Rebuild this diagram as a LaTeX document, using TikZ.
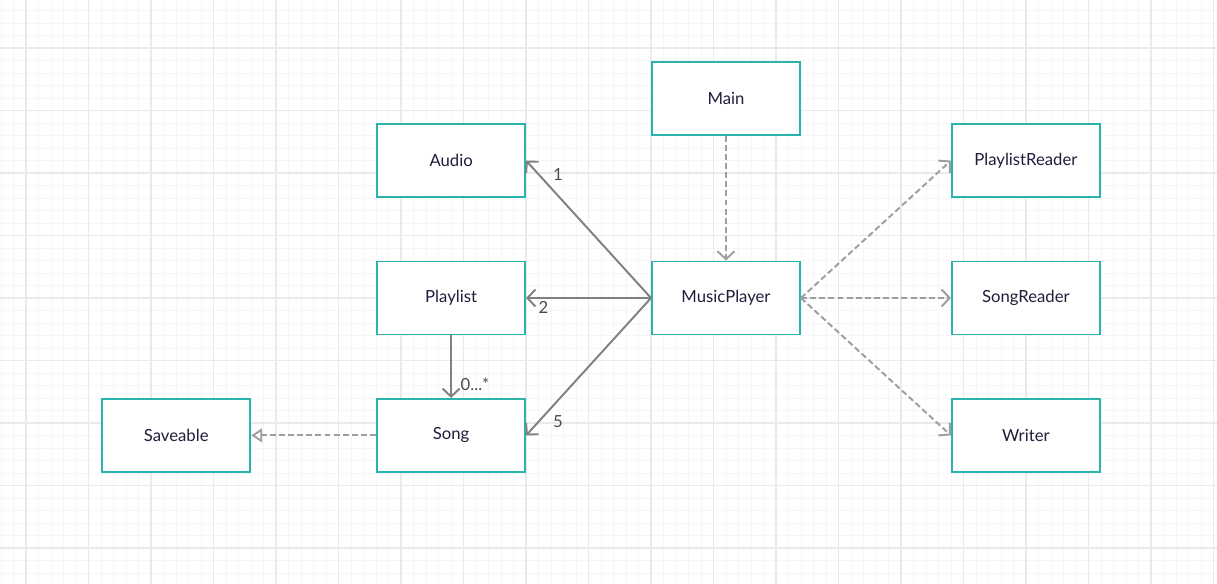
\documentclass[tikz,border=0pt]{standalone}
\usepackage{fontspec}
\setmainfont{Lato}
\usepackage{xcolor}
\usetikzlibrary{positioning,arrows.meta}
\definecolor{boxteal}{HTML}{2BB3AE}
\definecolor{textnavy}{HTML}{1E1E3C}
\definecolor{multgray}{HTML}{4A4A55}
\definecolor{linegray}{HTML}{808080}
\definecolor{dashgray}{HTML}{9E9E9E}
\definecolor{gridminor}{HTML}{F6F6F6}
\definecolor{gridmajor}{HTML}{EAEAEA}

\begin{document}
\begin{tikzpicture}[
  x=0.02cm, y=-0.02cm,
  node distance=1.25cm and 2.5cm,
  cls/.style={draw=boxteal, line width=1.1pt, fill=white, text=textnavy, minimum width=2.96cm, minimum height=1.46cm, font=\fontsize{9.5}{11}\selectfont},
  assoc/.style={draw=linegray, line width=1.1pt, -{Straight Barb[length=1.6mm, width=3.4mm]}},
  dep/.style={draw=dashgray, line width=1.1pt, dash pattern=on 3.4pt off 1.8pt, -{Straight Barb[length=1.6mm, width=3.4mm]}},
  real/.style={draw=dashgray, line width=1.1pt, dash pattern=on 3.4pt off 1.8pt, -{Triangle[fill=white, length=2.2mm, width=2.8mm]}},
  mult/.style={text=multgray, font=\fontsize{9.5}{11}\selectfont, inner sep=1.5pt}
]
% background grid
\useasboundingbox (0,0) rectangle (1217,584);
\fill[white] (0,0) rectangle (1217,584);
\foreach \gx in {1,13.5,...,1217} \draw[gridminor, line width=0.5pt] (\gx,0) -- (\gx,584);
\foreach \gy in {10.5,23,...,584} \draw[gridminor, line width=0.5pt] (0,\gy) -- (1217,\gy);
\foreach \gx in {26,88.5,...,1217} \draw[gridmajor, line width=0.6pt] (\gx,0) -- (\gx,584);
\foreach \gy in {48,110.5,...,584} \draw[gridmajor, line width=0.6pt] (0,\gy) -- (1217,\gy);

% classes
\node[cls] (mp) at (726,298) {MusicPlayer};
\node[cls, left=of mp] (playlist) {Playlist};
\node[cls, above=of playlist] (audio) {Audio};
\node[cls, below=of playlist] (song) {Song};
\node[cls, left=of song] (saveable) {Saveable};
\node[cls, above=2.5cm of mp] (main) {Main};
\node[cls, right=3cm of mp] (songreader) {SongReader};
\node[cls, above=of songreader] (plreader) {PlaylistReader};
\node[cls, below=of songreader] (writer) {Writer};

% relations
\draw[dep] (main) -- (mp);
\draw[assoc] (mp.west) -- node[mult, pos=0.9, anchor=west, xshift=0.22cm] {1} (audio.east);
\draw[assoc] (mp.west) -- node[mult, pos=0.86, anchor=north] {2} (playlist.east);
\draw[assoc] (mp.west) -- node[mult, pos=0.9, anchor=west, xshift=0.22cm] {5} (song.east);
\draw[assoc] (playlist) -- node[mult, pos=0.78, anchor=west, xshift=0.12cm] {0...*} (song);
\draw[real] (song) -- (saveable);
\draw[dep] (mp.east) -- (plreader.west);
\draw[dep] (mp.east) -- (songreader.west);
\draw[dep] (mp.east) -- (writer.west);
\end{tikzpicture}
\end{document}
